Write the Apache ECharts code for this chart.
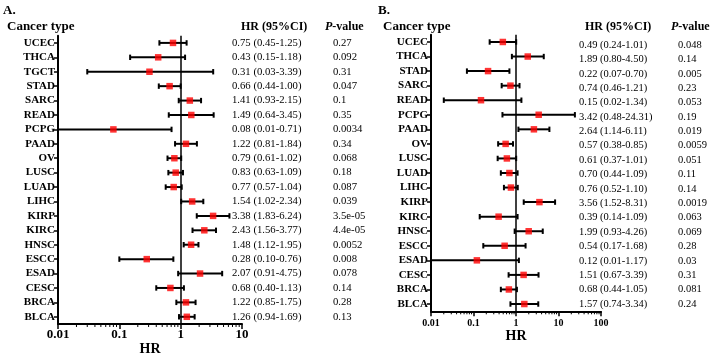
<!DOCTYPE html>
<html><head><meta charset="utf-8">
<script src="https://cdn.jsdelivr.net/npm/echarts@6/dist/echarts.min.js"></script>
<style>html,body{margin:0;padding:0;background:#fff}#c{width:715px;height:361px}</style>
</head><body><div id="c"></div>
<script>
const catsA = ['UCEC','THCA','TGCT','STAD','SARC','READ','PCPG','PAAD','OV','LUSC','LUAD','LIHC','KIRP','KIRC','HNSC','ESCC','ESAD','CESC','BRCA','BLCA'];
const hrA = [0.75,0.43,0.31,0.66,1.41,1.49,0.08,1.22,0.79,0.83,0.77,1.54,3.38,2.43,1.48,0.28,2.07,0.68,1.22,1.26];
const loA = [0.45,0.15,0.03,0.44,0.93,0.64,0.01,0.81,0.61,0.63,0.57,1.02,1.83,1.56,1.12,0.10,0.91,0.40,0.85,0.94];
const hiA = [1.25,1.18,3.39,1.00,2.15,3.45,0.71,1.84,1.02,1.09,1.04,2.34,6.24,3.77,1.95,0.76,4.75,1.13,1.75,1.69];
const pA = ['0.27','0.092','0.31','0.047','0.1','0.35','0.0034','0.34','0.068','0.18','0.087','0.039','3.5e-05','4.4e-05','0.0052','0.008','0.078','0.14','0.28','0.13'];

const catsB = ['UCEC','THCA','STAD','SARC','READ','PCPG','PAAD','OV','LUSC','LUAD','LIHC','KIRP','KIRC','HNSC','ESCC','ESAD','CESC','BRCA','BLCA'];
const hrB = [0.49,1.89,0.22,0.74,0.15,3.42,2.64,0.57,0.61,0.70,0.76,3.56,0.39,1.99,0.54,0.12,1.51,0.68,1.57];
const loB = [0.24,0.80,0.07,0.46,0.02,0.48,1.14,0.38,0.37,0.44,0.52,1.52,0.14,0.93,0.17,0.01,0.67,0.44,0.74];
const hiB = [1.01,4.50,0.70,1.21,1.34,24.31,6.11,0.85,1.01,1.09,1.10,8.31,1.09,4.26,1.68,1.17,3.39,1.05,3.34];
const pB = ['0.048','0.14','0.005','0.23','0.053','0.19','0.019','0.0059','0.051','0.11','0.14','0.0019','0.063','0.069','0.28','0.03','0.31','0.081','0.24'];

const ticksA = ['0.01','0.1','1','10'];
const ticksB = ['0.01','0.1','1','10','100'];

const FONT = 'Liberation Serif';
const fmt = (h,l,u) => h.map((v,i)=>v.toFixed(2)+' ('+l[i].toFixed(2)+'-'+u[i].toFixed(2)+')');
const hrTextA = fmt(hrA,loA,hiA);
const hrTextB = fmt(hrB,loB,hiB);

function minorVals(maxExp){
  const out=[];
  for(let e=-2;e<maxExp;e++){ for(let m=2;m<=9;m++){ out.push([m*Math.pow(10,e),0]); } }
  return out;
}

function errRender(params, api){
  const i = api.value(2);
  const a = api.coord([api.value(0), i]);
  const b = api.coord([api.value(1), i]);
  const h = 2.7;
  const st = {stroke:'#000', lineWidth:2};
  return {type:'group', children:[
    {type:'line', shape:{x1:a[0],y1:a[1],x2:b[0],y2:b[1]}, style:st},
    {type:'line', shape:{x1:a[0],y1:a[1]-h,x2:a[0],y2:a[1]+h}, style:st},
    {type:'line', shape:{x1:b[0],y1:b[1]-h,x2:b[0],y2:b[1]+h}, style:st}
  ]};
}
function minorRender(params, api){
  const x = api.coord([api.value(0), 0])[0];
  const yb = params.coordSys.y + params.coordSys.height;
  return {type:'line', shape:{x1:x,y1:yb,x2:x,y2:yb+3}, style:{stroke:'#000', lineWidth:1}};
}

function xAx(grid, max, ticks, fs, margin, gap){
  return {gridIndex:grid, type:'log', logBase:10, min:0.01, max:max,
    axisLine:{show:true, lineStyle:{color:'#000', width:2}},
    axisTick:{show:true, length:5, lineStyle:{color:'#000', width:1.5}},
    axisLabel:{color:'#000', fontFamily:FONT, fontWeight:'bold', fontSize:fs, margin:margin,
      formatter:(v)=>{const k=Math.round(Math.log10(v))+2; return ticks[k]!==undefined?ticks[k]:'';}},
    splitLine:{show:false},
    name:'HR', nameLocation:'middle', nameGap:gap, nameMoveOverlap:false,
    nameTextStyle:{color:'#000', fontFamily:FONT, fontWeight:'bold', fontSize:14, verticalAlign:'middle'}};
}
function catAx(grid, cats){
  return {gridIndex:grid, type:'category', data:cats, inverse:true,
    axisLine:{show:true, lineStyle:{color:'#000', width:2}},
    axisTick:{show:true, alignWithLabel:true, interval:0, length:4, lineStyle:{color:'#000', width:1.5}},
    axisLabel:{color:'#000', fontFamily:FONT, fontWeight:'bold', fontSize:11, margin:3, interval:0},
    splitLine:{show:false}};
}
function textAx(grid, labels, offset, fs){
  return {gridIndex:grid, type:'category', data:labels, inverse:true, position:'right', offset:offset,
    axisLine:{show:false}, axisTick:{show:false},
    axisLabel:{color:'#000', fontFamily:FONT, fontSize:fs, margin:0, align:'left', interval:0},
    splitLine:{show:false}};
}
function hdr(x, y, txt, fs){
  return {type:'text', left:x, top:y, style:{text:txt, font:'bold '+fs+'px "'+FONT+'"', fill:'#000'}};
}
function phdr(x, y){
  return {type:'text', left:x, top:y, style:{text:'{i|P}-value', font:'bold 12px "'+FONT+'"', fill:'#000',
    rich:{i:{fontStyle:'italic', fontWeight:'bold', fontSize:12, fontFamily:FONT}}}};
}

const option = {
  animation:false,
  backgroundColor:'#fff',
  grid:[
    {left:58, top:35.7, width:184, height:291.6},
    {left:431, top:34.7, width:170, height:276.6},
    {left:431, top:37.8, width:170, height:273.4}
  ],
  xAxis:[
    xAx(0, 10, ticksA, 13, 4, 25),
    xAx(1, 100, ticksB, 10, 7, 25),
    {gridIndex:2, type:'value', show:false}
  ],
  yAxis:[
    catAx(0, catsA),
    textAx(0, hrTextA, -10, 10.7),
    textAx(0, pA, 91, 10.7),
    catAx(1, catsB),
    textAx(2, hrTextB, -22, 10.5),
    textAx(2, pB, 77, 10.5)
  ],
  graphic:[
    hdr(3, 4, 'A.', 13),
    hdr(7, 20, 'Cancer type', 13),
    hdr(241, 21, 'HR (95%CI)', 12),
    phdr(325, 21),
    hdr(378, 4, 'B.', 13),
    hdr(383, 20, 'Cancer type', 13),
    hdr(585, 21, 'HR (95%CI)', 12),
    phdr(671, 21)
  ],
  series:[
    {type:'custom', xAxisIndex:0, yAxisIndex:0, renderItem:errRender, z:3,
      data: loA.map((v,i)=>[v, hiA[i], i])},
    {type:'scatter', xAxisIndex:0, yAxisIndex:0, symbol:'rect', symbolSize:6.5, z:5,
      itemStyle:{color:'#ff0000'}, data: hrA.map((v,i)=>[v,i]),
      markLine:{silent:true, symbol:'none', label:{show:false}, lineStyle:{color:'#000', width:1.5, type:'solid'}, data:[{xAxis:1}]}},
    {type:'custom', xAxisIndex:0, yAxisIndex:0, renderItem:minorRender, data:minorVals(1)},
    {type:'custom', xAxisIndex:1, yAxisIndex:3, renderItem:errRender, z:3,
      data: loB.map((v,i)=>[v, hiB[i], i])},
    {type:'scatter', xAxisIndex:1, yAxisIndex:3, symbol:'rect', symbolSize:6.5, z:5,
      itemStyle:{color:'#ff0000'}, data: hrB.map((v,i)=>[v,i]),
      markLine:{silent:true, symbol:'none', label:{show:false}, lineStyle:{color:'#000', width:1.5, type:'solid'}, data:[{xAxis:1}]}},
    {type:'custom', xAxisIndex:1, yAxisIndex:3, renderItem:minorRender, data:minorVals(2)}
  ]
};
const chart = echarts.init(document.getElementById('c'), null, {renderer:'canvas'});
chart.setOption(option);
</script></body></html>
